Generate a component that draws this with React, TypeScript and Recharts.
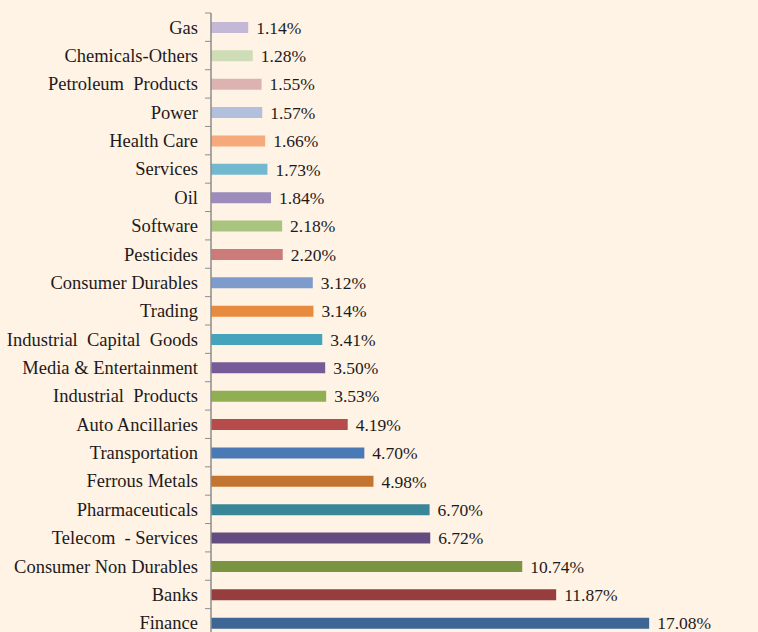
import React from "react";
import { BarChart, Bar, XAxis, YAxis, Cell, LabelList } from "recharts";

const categories = [
  "Gas",
  "Chemicals-Others",
  "Petroleum  Products",
  "Power",
  "Health Care",
  "Services",
  "Oil",
  "Software",
  "Pesticides",
  "Consumer Durables",
  "Trading",
  "Industrial  Capital  Goods",
  "Media & Entertainment",
  "Industrial  Products",
  "Auto Ancillaries",
  "Transportation",
  "Ferrous Metals",
  "Pharmaceuticals",
  "Telecom  - Services",
  "Consumer Non Durables",
  "Banks",
  "Finance",
];

// Printed value labels (%)
const printedValues = [
  1.14, 1.28, 1.55, 1.57, 1.66, 1.73, 1.84, 2.18, 2.2, 3.12, 3.14, 3.41, 3.5,
  3.53, 4.19, 4.7, 4.98, 6.7, 6.72, 10.74, 11.87, 17.08,
];

// Bar lengths as drawn in the picture (%), the three largest are drawn shorter than printed
const plottedValues = [
  1.14, 1.28, 1.55, 1.57, 1.66, 1.73, 1.84, 2.18, 2.2, 3.12, 3.14, 3.41, 3.5,
  3.53, 4.19, 4.7, 4.98, 6.7, 6.72, 9.54, 10.58, 13.43,
];

const barColors = [
  "#C3B9D6",
  "#CEDDB6",
  "#DDB3B2",
  "#B3C0DD",
  "#F6A97A",
  "#72B9D0",
  "#9D8BBB",
  "#A9C47F",
  "#CC7B7A",
  "#7E9CCB",
  "#E78C3E",
  "#46A3BC",
  "#775B98",
  "#8FAF52",
  "#B54B4A",
  "#4A7AB5",
  "#C47431",
  "#3A8699",
  "#654C80",
  "#7A9441",
  "#963E3E",
  "#3E6694",
];

const data = categories.map((name, i) => ({
  name,
  value: plottedValues[i],
  label: printedValues[i].toFixed(2) + "%",
}));

const FONT = "'Liberation Serif', 'DejaVu Serif', serif";
const TEXT = "#1E1A1B";
const AXIS = "#8E8E8E";

const CHART_W = 758;
const CHART_H = 640;
const MARGIN = { top: 13, right: 25, bottom: 3, left: 0 };
const Y_W = 211;
const BAND = (CHART_H - MARGIN.top - MARGIN.bottom) / categories.length;

const CategoryTick = (props: any) => {
  const { x, y, payload } = props;
  const axisX = x + 13;
  return (
    <g>
      <line x1={axisX - 6} x2={axisX} y1={y - BAND / 2} y2={y - BAND / 2} stroke={AXIS} strokeWidth={1} />
      <text
        x={x}
        y={y}
        dy="0.35em"
        textAnchor="end"
        fill={TEXT}
        fontFamily={FONT}
        fontSize={18.5}
        style={{ whiteSpace: "pre" }}
      >
        {payload.value}
      </text>
    </g>
  );
};

export default function App() {
  return (
    <div
      style={{
        position: "absolute",
        left: 0,
        top: 0,
        width: 758,
        height: 632,
        overflow: "hidden",
        background: "#FEF3E4",
      }}
    >
      <BarChart
        width={CHART_W}
        height={CHART_H}
        data={data}
        layout="vertical"
        margin={MARGIN}
        barCategoryGap={0}
      >
        <XAxis type="number" domain={[0, 16]} hide />
        <YAxis
          type="category"
          dataKey="name"
          width={Y_W}
          axisLine={{ stroke: AXIS, strokeWidth: 1.5 }}
          tickLine={false}
          tickSize={6}
          tickMargin={7}
          interval={0}
          tick={<CategoryTick />}
        />
        <Bar dataKey="value" barSize={11} isAnimationActive={false}>
          {data.map((d, i) => (
            <Cell key={d.name} fill={barColors[i]} />
          ))}
          <LabelList
            dataKey="label"
            position="right"
            offset={8}
            fill={TEXT}
            fontFamily={FONT}
            fontSize={17.5}
          />
        </Bar>
      </BarChart>
    </div>
  );
}
